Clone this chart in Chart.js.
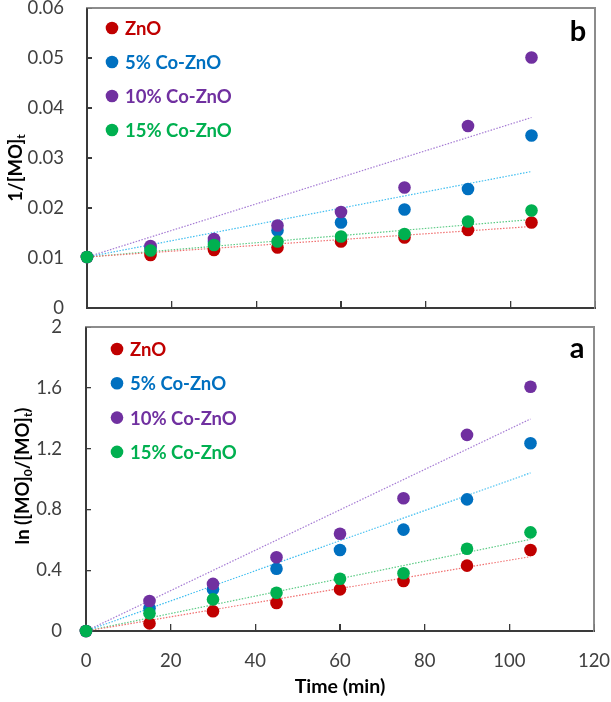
<!DOCTYPE html>
<html><head><meta charset="utf-8">
<script src="https://cdn.jsdelivr.net/npm/chart.js@4"></script>
<style>
html,body{margin:0;padding:0;background:#fff;}
#wrap{position:relative;width:611px;height:702px;overflow:hidden;background:#fff;}
#c1{position:absolute;left:0;top:0;z-index:2;}
#c2{position:absolute;left:0;top:318px;z-index:2;}
.fr{position:absolute;z-index:1;}
</style></head><body>
<div id="wrap"><canvas id="c1" width="611" height="318"></canvas><canvas id="c2" width="611" height="384"></canvas></div>
<script>
// ---- data ----
const seriesNames = ['ZnO', '5% Co-ZnO', '10% Co-ZnO', '15% Co-ZnO'];
const times = [0, 15, 30, 45, 60, 75, 90, 105];
// panel b: 1/[MO]t
const invZnO = [0.0102, 0.0106, 0.0116, 0.0121, 0.0133, 0.0141, 0.0156, 0.0171];
const inv5   = [0.0102, 0.0120, 0.0132, 0.0155, 0.0171, 0.0197, 0.0238, 0.0345];
const inv10  = [0.0102, 0.0124, 0.0138, 0.0165, 0.0192, 0.0241, 0.0364, 0.0501];
const inv15  = [0.0102, 0.0115, 0.0126, 0.0133, 0.0143, 0.0148, 0.0173, 0.0195];
// panel a: ln([MO]0/[MO]t)
const lnZnO = [0, 0.050, 0.130, 0.184, 0.274, 0.329, 0.430, 0.533];
const ln5   = [0, 0.150, 0.274, 0.410, 0.533, 0.667, 0.866, 1.235];
const ln10  = [0, 0.197, 0.310, 0.485, 0.640, 0.873, 1.290, 1.607];
const ln15  = [0, 0.116, 0.208, 0.252, 0.344, 0.380, 0.541, 0.649];
// trend line end points (at t = 0 and t = 105)
const trendT = [0, 105];
const invTrendZnO = [0.0102, 0.0163];
const invTrend5   = [0.0102, 0.0273];
const invTrend10  = [0.0102, 0.0381];
const invTrend15  = [0.0102, 0.0177];
const lnTrendZnO = [0, 0.489];
const lnTrend5   = [0, 1.040];
const lnTrend10  = [0, 1.395];
const lnTrend15  = [0, 0.603];
// ticks
const xTicks = [0, 20, 40, 60, 80, 100, 120];
const yTicksB = [0, 0.01, 0.02, 0.03, 0.04, 0.05, 0.06];
const yTicksA = [0, 0.4, 0.8, 1.2, 1.6, 2];
const xTitle = 'Time (min)';

// ---- styles ----
const pointColors = ['#C00000', '#0070C0', '#7030A0', '#00B050'];
const lineColors  = ['#F07070', '#40BEF0', '#A57BD4', '#5CCB85'];
const FONT = 'Lato, "Liberation Sans", sans-serif';
const AXIS = '#3a3a3a';

function pts(xs, ys) { return xs.map((x, i) => ({x: x, y: ys[i]})); }

function buildDatasets(series, trends) {
  const ds = [];
  series.forEach((s, i) => {
    ds.push({
      label: seriesNames[i], data: pts(times, s), backgroundColor: pointColors[i],
      borderWidth: 0, pointRadius: 6.3, pointHoverRadius: 6.3, order: 3 - i, clip: false
    });
  });
  trends.forEach((t, i) => {
    ds.push({
      label: seriesNames[i] + ' fit', data: pts(trendT, t), showLine: true, borderColor: lineColors[i],
      borderWidth: 1.2, borderDash: [1.5, 1.5], pointRadius: 0, order: 10, clip: false, isTrend: true
    });
  });
  return ds;
}

function panelPlugin(cfg) {
  return {
    id: 'panel' + cfg.letter,
    afterDraw(chart) {
      const ctx = chart.ctx;
      const xs = chart.scales.x;
      ctx.save();
      chart.data.datasets.forEach((d, i) => {
        if (d.isTrend) return;
        const y = cfg.legendY + i * cfg.legendGap;
        ctx.fillStyle = pointColors[i];
        ctx.beginPath(); ctx.arc(cfg.legendX, y, 6.3, 0, Math.PI * 2); ctx.fill();
        ctx.font = 'bold 18.5px ' + FONT;
        ctx.textBaseline = 'middle'; ctx.textAlign = 'left';
        ctx.fillText(d.label, cfg.legendX + 13, y + 1);
      });
      ctx.fillStyle = '#000';
      ctx.font = 'bold 29px ' + FONT;
      ctx.textAlign = 'center'; ctx.textBaseline = 'middle';
      ctx.fillText(cfg.letter, cfg.letterX, cfg.letterY);
      if (cfg.showXTitle) {
        ctx.font = 'bold 19.5px ' + FONT;
        ctx.fillText(xTitle, (xs.getPixelForValue(0) + xs.getPixelForValue(120)) / 2, cfg.xTitleY);
      }
      ctx.translate(cfg.titleX, cfg.titleY);
      ctx.rotate(-Math.PI / 2);
      const mainF = 'bold 18.5px ' + FONT, subF = 'bold 12px ' + FONT;
      let total = 0;
      cfg.title.forEach(p => { ctx.font = p.sub ? subF : mainF; total += ctx.measureText(p.t).width; });
      let x = -total / 2;
      ctx.textAlign = 'left'; ctx.textBaseline = 'alphabetic'; ctx.fillStyle = '#000';
      cfg.title.forEach(p => {
        ctx.font = p.sub ? subF : mainF;
        ctx.fillText(p.t, x, p.sub ? 10 : 6.5);
        x += ctx.measureText(p.t).width;
      });
      ctx.restore();
    }
  };
}

function fmt(v) { return String(parseFloat(Number(v).toFixed(3))); }

function buildScales(yMin, yMax, yTicks, yWidth, showXLabels) {
  return {
    x: {
      type: 'linear', min: 0, max: 120,
      afterBuildTicks: s => { s.ticks = xTicks.map(v => ({value: v})); },
      ticks: showXLabels
        ? { callback: v => fmt(v), color: '#404040', padding: 26, maxRotation: 0, font: { family: FONT, size: 18.5 } }
        : { display: false },
      grid: { display: true, drawOnChartArea: false, drawTicks: true, tickLength: -7, color: AXIS, lineWidth: 1.3 },
      border: { display: true, color: AXIS, width: 1.6 },
      afterFit: s => { s.height = showXLabels ? 71 : 10; s.paddingLeft = 0; s.paddingRight = 0; }
    },
    y: {
      type: 'linear', min: yMin, max: yMax,
      afterBuildTicks: s => { s.ticks = yTicks.map(v => ({value: v})); },
      ticks: { callback: v => fmt(v), color: '#404040', padding: showXLabels ? 29 : 28, font: { family: FONT, size: 18.5 } },
      grid: { display: true, drawOnChartArea: false, drawTicks: true, tickLength: -5, color: AXIS, lineWidth: 1.3 },
      border: { display: true, color: AXIS, width: 1.6 },
      afterFit: s => { s.width = yWidth; s.paddingTop = 0; s.paddingBottom = 0; }
    },
    x2: {
      type: 'linear', position: 'top', min: 0, max: 120,
      ticks: { display: false },
      grid: { display: true, drawOnChartArea: false, drawTicks: false, color: 'rgba(0,0,0,0)' },
      border: { display: true, color: '#8c8c8c', width: 1.2 },
      afterFit: s => { s.height = 0; s.paddingLeft = 0; s.paddingRight = 0; }
    },
    y2: {
      type: 'linear', position: 'right', min: yMin, max: yMax,
      ticks: { display: false },
      grid: { display: true, drawOnChartArea: false, drawTicks: false, color: 'rgba(0,0,0,0)' },
      border: { display: true, color: '#8c8c8c', width: 1.2 },
      afterFit: s => { s.width = 0; s.paddingTop = 0; s.paddingBottom = 0; }
    }
  };
}

// frame (axes box + inward tick marks) placed under the transparent canvas,
// positioned from the chart's own scales
function addFrame(chart, offsetTop, yTicks) {
  const wrap = document.getElementById('wrap');
  const xs = chart.scales.x, ys = chart.scales.y;
  const L = xs.getPixelForValue(0), R = xs.getPixelForValue(120);
  const T = ys.getPixelForValue(yTicks[yTicks.length - 1]) + offsetTop;
  const B = ys.getPixelForValue(yTicks[0]) + offsetTop;
  function box(l, t, w, h, c) {
    const d = document.createElement('div');
    d.className = 'fr';
    d.style.left = l + 'px'; d.style.top = t + 'px';
    d.style.width = w + 'px'; d.style.height = h + 'px';
    d.style.background = c;
    wrap.appendChild(d);
  }
  box(L, T - 0.6, R - L, 1.2, '#8c8c8c');
  box(R - 0.6, T - 0.6, 1.2, B - T, '#8c8c8c');
  box(L - 0.8, T - 0.6, 1.6, B - T + 1.4, AXIS);
  box(L - 0.8, B - 0.8, R - L + 1.4, 1.6, AXIS);
  xTicks.forEach(v => {
    if (v <= 0 || v >= 120) return;
    box(xs.getPixelForValue(v) - 0.65, B - 7, 1.3, 7, AXIS);
  });
  yTicks.forEach((v, i) => {
    if (i === 0 || i === yTicks.length - 1) return;
    box(L, ys.getPixelForValue(v) + offsetTop - 0.65, 5, 1.3, AXIS);
  });
}

// ---- top chart (b) ----
const chartB = new Chart(document.getElementById('c1'), {
  type: 'scatter',
  data: { datasets: buildDatasets([invZnO, inv5, inv10, inv15], [invTrendZnO, invTrend5, invTrend10, invTrend15]) },
  options: {
    responsive: false, animation: false, events: [],
    layout: { padding: { top: 8, right: 16, left: 0, bottom: 0 } },
    plugins: { legend: { display: false }, tooltip: { enabled: false } },
    scales: buildScales(0, 0.06, yTicksB, 87, false)
  },
  plugins: [panelPlugin({
    letter: 'b', letterX: 578, letterY: 32,
    legendX: 112, legendY: 28, legendGap: 34,
    titleX: 15, titleY: 168,
    title: [{t: '1/[MO]'}, {t: 't', sub: true}]
  })]
});

// ---- bottom chart (a) ----
const chartA = new Chart(document.getElementById('c2'), {
  type: 'scatter',
  data: { datasets: buildDatasets([lnZnO, ln5, ln10, ln15], [lnTrendZnO, lnTrend5, lnTrend10, lnTrend15]) },
  options: {
    responsive: false, animation: false, events: [],
    layout: { padding: { top: 9, right: 17, left: 0, bottom: 0 } },
    plugins: { legend: { display: false }, tooltip: { enabled: false } },
    scales: buildScales(0, 2, yTicksA, 86, true)
  },
  plugins: [panelPlugin({
    letter: 'a', letterX: 577, letterY: 31,
    legendX: 117, legendY: 31, legendGap: 34.3,
    titleX: 22, titleY: 158,
    showXTitle: true, xTitleY: 369,
    title: [{t: 'ln ([MO]'}, {t: '0', sub: true}, {t: '/[MO]'}, {t: 't', sub: true}, {t: ')'}]
  })]
});

addFrame(chartB, 0, yTicksB);
addFrame(chartA, 318, yTicksA);
</script>
</body></html>
